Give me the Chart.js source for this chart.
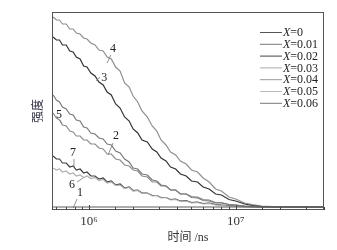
<!DOCTYPE html>
<html>
<head>
<meta charset="utf-8">
<script src="https://cdn.jsdelivr.net/npm/chart.js@4.4.0/dist/chart.umd.min.js"></script>
<style>
  html, body { margin: 0; padding: 0; background: #fff; }
</style>
</head>
<body>
<canvas id="chart" width="337" height="250"></canvas>
<script>
// time axis (ns)
var times = [5.7e5, 6.0e5, 6.3e5, 6.6e5, 7.0e5, 7.4e5, 7.8e5, 8.2e5, 8.7e5, 9.2e5,
    9.7e5, 1.03e6, 1.1e6, 1.17e6, 1.25e6, 1.33e6, 1.42e6, 1.52e6, 1.63e6, 1.75e6,
    1.88e6, 2.0e6, 2.15e6, 2.3e6, 2.5e6, 2.7e6, 2.9e6, 3.1e6, 3.35e6, 3.6e6,
    3.9e6, 4.2e6, 4.6e6, 5.0e6, 5.5e6, 6.0e6, 6.6e6, 7.3e6, 8.0e6, 9.0e6,
    1.0e7, 1.15e7, 1.3e7, 1.5e7, 1.8e7, 2.2e7, 2.7e7, 3.3e7, 4.0e7];

// intensity, one list per composition
var x0 = [0, 0, 0, 0, 0, 0, 0, 0, 0, 0, 0, 0, 0, 0, 0, 0, 0, 0, 0, 0, 0, 0, 0, 0, 0,
    0, 0, 0, 0, 0, 0, 0, 0, 0, 0, 0, 0, 0, 0, 0, 0, 0, 0, 0, 0, 0, 0, 0, 0];
var x001 = [112, 107, 105, 100, 98, 93, 92, 87, 86, 80, 79, 74, 73, 69, 68, 63, 62, 56, 54, 48,
    45, 39, 38, 33, 32, 27, 26, 22, 21, 17, 17, 13, 13, 9.5, 9, 6.5, 6, 4, 4, 2.5,
    2, 1, 0.5, 0, 0, 0, 0, 0, 0];
var x002 = [170, 167, 167, 162, 162, 156, 155, 150, 148, 141, 140, 134, 131, 125, 122, 115, 112, 103, 99, 90,
    86, 78, 74, 67, 65, 58, 55, 49, 46, 40, 38, 33, 31, 26, 25, 20, 18, 13, 12, 7.5,
    6, 3, 1.5, 0.5, 0, 0, 0, 0, 0];
var x003 = [190, 187, 187, 183, 183, 178, 178, 174, 173, 169, 168, 164, 162, 157, 156, 150, 148, 140, 136, 124,
    120, 111, 105, 96, 90, 81, 76, 67, 62, 55, 52, 46, 43, 37, 35, 29, 25, 18, 16, 10,
    8, 4, 2.5, 1, 0.5, 0, 0, 0, 0];
var x004 = [94, 89, 87, 82, 81, 76, 75, 71, 71, 67, 67, 63, 63, 59, 58, 53, 53, 48, 47, 42,
    41, 37, 36, 31, 30, 25, 25, 21, 21, 17, 17, 13, 13, 10.5, 10, 7.5, 7, 4.5, 4.5, 2.5,
    2, 1, 0.5, 0, 0, 0, 0, 0, 0];
var x005 = [39, 37, 38, 35, 36, 33, 34, 31, 32, 29.5, 31, 28.5, 29.5, 26.5, 27.5, 24, 25, 21.5, 22, 18.5,
    19.5, 16, 16.5, 13.5, 14, 11, 11.5, 9, 9.5, 7, 7.5, 5.5, 6, 4, 4.5, 3, 3.5, 2, 1.5, 1,
    0.5, 0, 0, 0, 0, 0, 0, 0, 0];
var x006 = [51, 48, 48, 44, 44, 40, 41, 37, 38, 34, 35, 31, 31, 28, 29, 25, 26, 22, 23, 19,
    20, 16.5, 17, 14, 14, 11.5, 11.5, 9.5, 9.5, 7.5, 8, 6, 6.5, 4.5, 5, 3.5, 4, 2.5, 2, 1.5,
    1, 0.5, 0, 0, 0, 0, 0, 0, 0];

var seriesNames = ['0', '0.01', '0.02', '0.03', '0.04', '0.05', '0.06'];
var seriesValues = [x0, x001, x002, x003, x004, x005, x006];
var lineColors = ['#5a5a5a', '#7a7a7a', '#333333', '#8f8f8f', '#8c8c8c', '#b0b0b0', '#3f3f3f'];
var legendColors = ['#555', '#777', '#444', '#aaa', '#999', '#bbb', '#777'];

// curve numbers with their pointer lines, in data units [time, intensity]
var curveTags = [
    { text: '1', at: [8.7e5, 14], from: [8.3e5, 8], to: [7.8e5, -1] },
    { text: '2', at: [1.53e6, 71], from: [1.46e6, 64], to: [1.35e6, 52] },
    { text: '3', at: [1.27e6, 129], from: [1.19e6, 130], to: [1.12e6, 126] },
    { text: '4', at: [1.46e6, 158], from: [1.41e6, 152], to: [1.33e6, 144] },
    { text: '5', at: [6.25e5, 92], from: [6.35e5, 87], to: [6.55e5, 83] },
    { text: '6', at: [7.66e5, 22], from: [8.3e5, 25], to: [9.1e5, 29] },
    { text: '7', at: [7.78e5, 54], from: [7.91e5, 48], to: [7.91e5, 40] }
];

var serif = '"Liberation Serif", "DejaVu Serif", serif';

var decor = {
    id: 'decor',
    afterDatasetsDraw: function (chart) {
        var ctx = chart.ctx, a = chart.chartArea;
        var xs = chart.scales.x, ys = chart.scales.y;
        ctx.save();

        // frame
        ctx.strokeStyle = '#555';
        ctx.lineWidth = 1;
        ctx.strokeRect(a.left + 0.5, a.top + 0.5, a.right - a.left - 1, a.bottom - a.top - 1);

        // inward tick marks on bottom axis
        ctx.strokeStyle = '#444';
        xs.ticks.forEach(function (t) {
            var px = Math.round(xs.getPixelForValue(t.value)) + 0.5;
            var lg = Math.log10(t.value);
            var len = Math.abs(lg - Math.round(lg)) < 1e-6 ? 5 : 3;
            ctx.beginPath();
            ctx.moveTo(px, a.bottom);
            ctx.lineTo(px, a.bottom - len);
            ctx.stroke();
        });

        // legend
        ctx.textBaseline = 'middle';
        ctx.textAlign = 'left';
        seriesNames.forEach(function (name, i) {
            var yy = 32 + i * 11.8;
            ctx.strokeStyle = legendColors[i];
            ctx.lineWidth = 1;
            ctx.beginPath();
            ctx.moveTo(260, yy + 0.5);
            ctx.lineTo(282, yy + 0.5);
            ctx.stroke();
            ctx.fillStyle = '#222';
            ctx.font = 'italic 12px ' + serif;
            ctx.fillText('X', 283, yy + 1);
            var w = ctx.measureText('X').width;
            ctx.font = '12px ' + serif;
            ctx.fillText('=' + name, 283 + w, yy + 1);
        });

        // curve numbers
        ctx.textAlign = 'center';
        ctx.font = '12px ' + serif;
        curveTags.forEach(function (c) {
            ctx.strokeStyle = '#777';
            ctx.lineWidth = 0.8;
            ctx.beginPath();
            ctx.moveTo(xs.getPixelForValue(c.from[0]), ys.getPixelForValue(c.from[1]));
            ctx.lineTo(xs.getPixelForValue(c.to[0]), ys.getPixelForValue(c.to[1]));
            ctx.stroke();
            ctx.fillStyle = '#222';
            ctx.fillText(c.text, xs.getPixelForValue(c.at[0]), ys.getPixelForValue(c.at[1]));
        });
        ctx.restore();
    }
};

var chart = new Chart(
    document.getElementById('chart'),
    {
        type: 'line',
        data: {
            datasets: seriesValues.map(function (vals, i) {
                return {
                    label: 'X=' + seriesNames[i],
                    borderColor: lineColors[i],
                    backgroundColor: lineColors[i],
                    borderWidth: 1.2,
                    pointRadius: 0,
                    fill: false,
                    tension: 0,
                    data: times.map(function (t, k) { return { x: t, y: vals[k] }; })
                };
            })
        },
        options: {
            responsive: false,
            animation: false,
            devicePixelRatio: 1,
            layout: { padding: { top: 12, right: 13, left: 0, bottom: 0 } },
            plugins: {
                legend: { display: false },
                tooltip: { enabled: false }
            },
            scales: {
                x: {
                    type: 'logarithmic',
                    min: 5.6e5,
                    max: 4e7,
                    grid: { display: false, drawTicks: false },
                    border: { display: false },
                    afterFit: function (s) { s.height = 40; },
                    ticks: {
                        autoSkip: false,
                        maxRotation: 0,
                        minRotation: 0,
                        padding: 4,
                        color: '#333',
                        font: { family: serif, size: 13 },
                        callback: function (v) {
                            if (v === 1e6) return '10\u2076';
                            if (v === 1e7) return '10\u2077';
                            return '';
                        }
                    },
                    title: {
                        display: true,
                        text: '时间 /ns',
                        color: '#333',
                        font: { family: '"Liberation Serif", "Noto Sans CJK SC", serif', size: 12 },
                        padding: { top: 0, bottom: 5 }
                    }
                },
                y: {
                    min: -3,
                    max: 195,
                    grid: { display: false, drawTicks: false },
                    border: { display: false },
                    ticks: { display: false },
                    afterFit: function (s) { s.width = 52; },
                    title: {
                        display: true,
                        text: '强度',
                        color: '#334',
                        font: { family: '"Noto Sans CJK SC", serif', size: 12 },
                        padding: { top: 30, bottom: 0 }
                    }
                }
            }
        },
        plugins: [decor]
    }
);
</script>
</body>
</html>
